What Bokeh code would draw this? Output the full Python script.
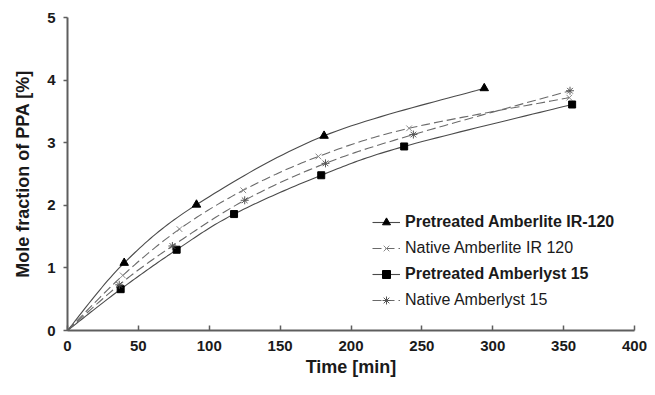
import numpy as np
from bokeh.plotting import figure
from bokeh.models import Range1d, Legend, LegendItem, FixedTicker
from bokeh.embed import file_html
from bokeh.resources import INLINE

# ---- data ----
t_pre_ir = [0, 40, 91, 181, 294]
y_pre_ir = [0, 1.08, 2.01, 3.11, 3.87]

t_nat_ir = [0, 39, 79, 124, 177, 241, 354]
y_nat_ir = [0, 0.88, 1.62, 2.24, 2.78, 3.23, 3.72]

t_pre_a15 = [0, 37.5, 77, 117.5, 179, 237.5, 356]
y_pre_a15 = [0, 0.66, 1.29, 1.86, 2.48, 2.94, 3.61]

t_nat_a15 = [0, 36.5, 74, 125, 182, 244, 354.5]
y_nat_a15 = [0, 0.73, 1.35, 2.08, 2.67, 3.13, 3.83]

x_ticks = [0, 50, 100, 150, 200, 250, 300, 350, 400]
y_ticks = [0, 1, 2, 3, 4, 5]

FONT = "Liberation Sans"


def smooth(xs, ys, n=24):
    """Catmull-Rom curve through the data points (like a spreadsheet's smoothed line)."""
    P = np.column_stack([xs, ys]).astype(float)
    P = np.vstack([P[0], P, P[-1]])
    s = np.linspace(0, 1, n, endpoint=False)[:, None]
    out = []
    for i in range(1, len(P) - 2):
        p0, p1, p2, p3 = P[i - 1], P[i], P[i + 1], P[i + 2]
        seg = 0.5 * ((2 * p1) + (-p0 + p2) * s
                     + (2 * p0 - 5 * p1 + 4 * p2 - p3) * s ** 2
                     + (-p0 + 3 * p1 - 3 * p2 + p3) * s ** 3)
        out.append(seg)
    out.append(P[-2][None, :])
    arr = np.vstack(out)
    return arr[:, 0], arr[:, 1]


p = figure(width=647, height=379, x_range=Range1d(0, 400), y_range=Range1d(0, 5),
           output_backend="svg", toolbar_location=None,
           min_border_left=67, min_border_right=13, min_border_top=17, min_border_bottom=47)
p.outline_line_color = None
p.xgrid.grid_line_color = None
p.ygrid.grid_line_color = None
p.background_fill_color = "white"
p.border_fill_color = "white"

AX = "#5e5e5e"
for ax in (p.xaxis[0], p.yaxis[0]):
    ax.axis_line_color = AX
    ax.axis_line_width = 2
    ax.major_tick_line_color = AX
    ax.major_tick_line_width = 1.5
    ax.minor_tick_line_color = None
    ax.major_label_text_font = FONT
    ax.major_label_text_font_style = "bold"
    ax.major_label_text_font_size = "15px"
    ax.major_label_text_color = "#1a1a1a"
    ax.axis_label_text_font = FONT
    ax.axis_label_text_font_style = "bold"
    ax.axis_label_text_font_size = "18px"
    ax.axis_label_text_color = "#1a1a1a"

p.xaxis.ticker = FixedTicker(ticks=x_ticks)
p.yaxis.ticker = FixedTicker(ticks=y_ticks)
p.xaxis.major_tick_in = 5
p.xaxis.major_tick_out = 0
p.yaxis.major_tick_in = 0
p.yaxis.major_tick_out = 4
p.xaxis.major_label_standoff = 10
p.yaxis.major_label_standoff = 8
p.xaxis.axis_label = "Time [min]"
p.yaxis.axis_label = "Mole fraction of PPA [%]"
p.xaxis.axis_label_standoff = 3
p.yaxis.axis_label_standoff = 11

SOLID = "#4a4a4a"
DASH = "#6a6a6a"

# Pretreated Amberlite IR-120
xs, ys = smooth(t_pre_ir, y_pre_ir)
l1 = p.line(xs, ys, line_color=SOLID, line_width=1.1)
m1 = p.scatter(t_pre_ir[1:], y_pre_ir[1:], marker="triangle", size=8.5,
               fill_color="black", line_color="black")

# Native Amberlite IR 120
xs, ys = smooth(t_nat_ir, y_nat_ir)
l2 = p.line(xs, ys, line_color=DASH, line_width=1.1, line_dash="9 4")
m2 = p.scatter(t_nat_ir, y_nat_ir, marker="x", size=8, line_color="#8a8a8a", line_width=1)

# Pretreated Amberlyst 15
xs, ys = smooth(t_pre_a15, y_pre_a15)
l3 = p.line(xs, ys, line_color=SOLID, line_width=1.1)
m3 = p.scatter(t_pre_a15[1:], y_pre_a15[1:], marker="square", size=7,
               fill_color="black", line_color="black")

# Native Amberlyst 15
xs, ys = smooth(t_nat_a15, y_nat_a15)
l4 = p.line(xs, ys, line_color=DASH, line_width=1.1, line_dash="9 4")
m4 = p.scatter(t_nat_a15, y_nat_a15, marker="asterisk", size=8, line_color="#555555", line_width=1)


def make_legend(items, style, loc):
    leg = Legend(items=items, location=loc, orientation="vertical")
    leg.label_text_font = FONT
    leg.label_text_font_style = style
    leg.label_text_font_size = "16px"
    leg.label_text_color = "#1a1a1a"
    leg.label_height = 20
    leg.glyph_height = 20
    leg.glyph_width = 28
    leg.label_standoff = 5
    leg.spacing = 32
    leg.padding = 0
    leg.margin = 0
    leg.border_line_color = None
    leg.background_fill_alpha = 0
    return leg


leg_bold = make_legend([LegendItem(label="Pretreated Amberlite IR-120", renderers=[l1, m1]),
                        LegendItem(label="Pretreated Amberlyst 15", renderers=[l3, m3])],
                       "bold", (305, 46))
leg_norm = make_legend([LegendItem(label="Native Amberlite IR 120", renderers=[l2, m2]),
                        LegendItem(label="Native Amberlyst 15", renderers=[l4, m4])],
                       "normal", (305, 20))
p.add_layout(leg_bold)
p.add_layout(leg_norm)

open("out.html", "w").write(file_html(p, INLINE))
